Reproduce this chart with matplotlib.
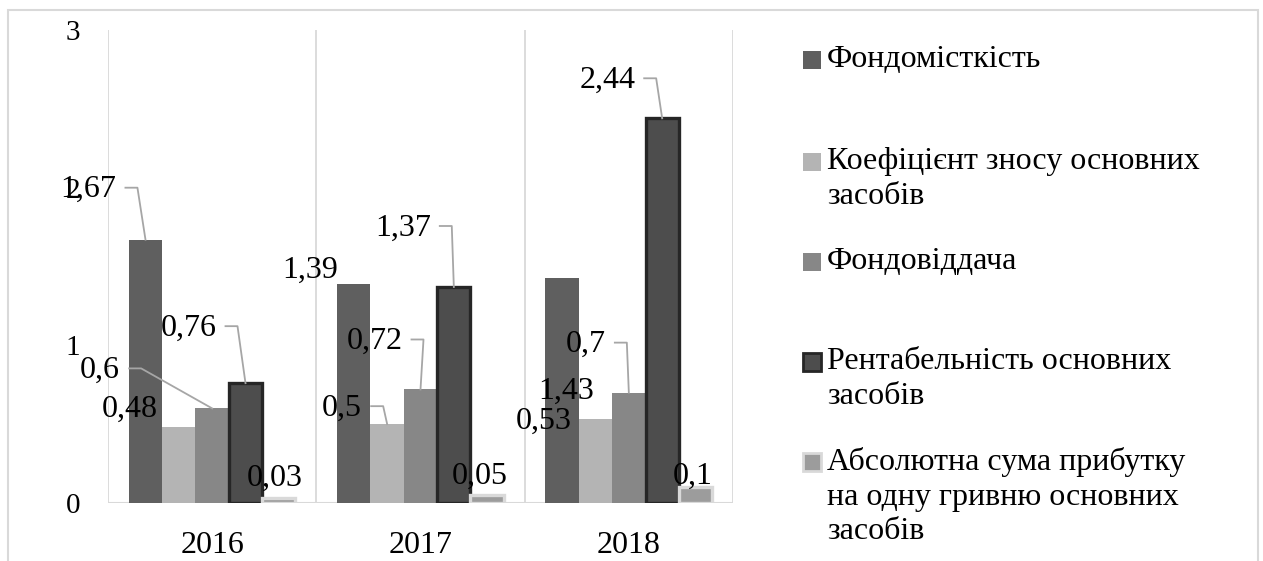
import matplotlib.pyplot as plt
import numpy as np
from matplotlib.patches import Rectangle
from matplotlib.lines import Line2D

YEARS = ["2016", "2017", "2018"]
SERIES = [
    "Фондомісткість",
    "Коефіцієнт зносу основних\nзасобів",
    "Фондовіддача",
    "Рентабельність основних\nзасобів",
    "Абсолютна сума прибутку\nна одну гривню основних\nзасобів",
]
fondomistkist = [1.67, 1.39, 1.43]
koef_znosu = [0.48, 0.50, 0.53]
fondovidacha = [0.60, 0.72, 0.70]
rentabelnist = [0.76, 1.37, 2.44]
abs_suma = [0.03, 0.05, 0.10]
VALUES = [fondomistkist, koef_znosu, fondovidacha, rentabelnist, abs_suma]

FACES = ["#5f5f5f", "#b4b4b4", "#878787", "#4d4d4d", "#9c9c9c"]
EDGES = [None, None, None, "#262626", "#d9d9d9"]

# label offsets (pixels) from each bar top: (dx, dy, leader)
LABEL_POS = [
    [(-57, 50, True), (-44, 14, False), (4, -114, False)],
    [(-49, 18, False), (-45, 16, True), (-52, -2, False)],
    [(-112, 38, True), (-46, 48, True), (-43, 48, True)],
    [(-57, 55, True), (-51, 59, True), (-55, 38, True)],
    [(-4, 20, False), (-7, 19, False), (-3, 11, False)],
]

SERIF = ["Liberation Serif", "DejaVu Serif"]
plt.rcParams["font.family"] = SERIF

W, H = 1263, 561
fig = plt.figure(figsize=(W / 100, H / 100), dpi=100)
ax = fig.add_axes([108 / W, 58 / H, 625 / W, 473 / H])

fig.patches.append(Rectangle((8 / W, -0.05), 1250 / W, 1.05 - 10 / H,
                             transform=fig.transFigure, fill=False,
                             edgecolor="#d9d9d9", linewidth=1.5))

x = np.arange(len(YEARS))
bw = 0.16
for j, vals in enumerate(VALUES):
    xs = x + (j - 2) * bw
    kw = {}
    if EDGES[j]:
        kw = dict(edgecolor=EDGES[j], linewidth=2.4)
    ax.bar(xs, vals, width=bw, color=FACES[j], zorder=3, **kw)

ax.set_xlim(-0.5, 2.5)
ax.set_ylim(0, 3)
for s in ax.spines.values():
    s.set_visible(False)
for b in [-0.5, 0.5, 1.5, 2.5]:
    ax.axvline(b, color="#d9d9d9", linewidth=1.3, zorder=1)
ax.axhline(0, color="#d9d9d9", linewidth=1.5, zorder=2)

ax.set_yticks([0, 1, 2, 3])
ax.set_yticklabels(["0", "1", "2", "3"], fontsize=21)
ax.set_xticks(x)
ax.set_xticklabels(YEARS, fontsize=23)
ax.tick_params(axis="y", length=0, pad=20)
ax.tick_params(axis="x", length=0, pad=20)

renderer = fig.canvas.get_renderer()
for j, vals in enumerate(VALUES):
    for i, v in enumerate(vals):
        bx, by = ax.transData.transform((x[i] + (j - 2) * bw, v))
        dx, dy, leader = LABEL_POS[j][i]
        txt = f"{v:g}".replace(".", ",")
        t = fig.text((bx + dx) / W, (by + dy) / H, txt, fontsize=23,
                     ha="center", va="center", zorder=5)
        if leader:
            bb = t.get_window_extent(renderer)
            sx = bb.x1 + 9
            sy = by + dy + 2
            fig.lines.append(Line2D([sx, sx + 12, bx], [sy, sy, by],
                                    transform=None, color="#a6a6a6",
                                    linewidth=1.3))

# legend
first_line_y = [60, 162, 262, 362, 462]
for j, name in enumerate(SERIES):
    yc = H - first_line_y[j]
    lw = 2.0 if EDGES[j] else 0
    fig.patches.append(Rectangle((803 / W, (yc - 9) / H), 18 / W, 18 / H,
                                 transform=fig.transFigure,
                                 facecolor=FACES[j],
                                 edgecolor=EDGES[j] or FACES[j],
                                 linewidth=lw))
    fig.text(827 / W, (yc + 15) / H, name, fontsize=23, ha="left",
             va="top", linespacing=1.25)

fig.savefig("out.png", dpi=100)
